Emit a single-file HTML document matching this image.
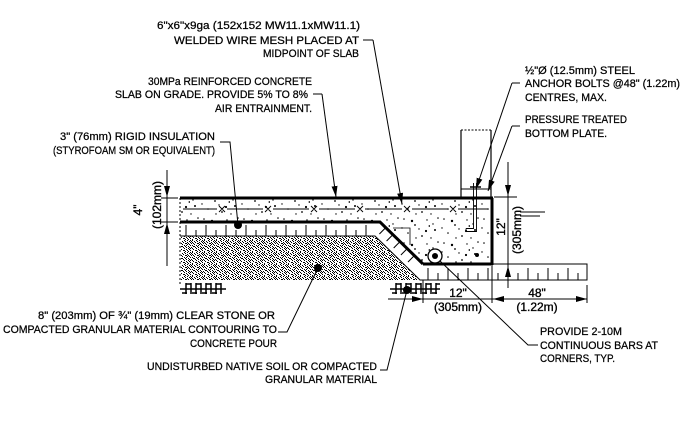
<!DOCTYPE html>
<html><head><meta charset="utf-8"><style>
html,body{margin:0;padding:0;background:#fff;}
svg{display:block;}
text{font-family:"Liberation Sans",Arial,sans-serif;font-size:11px;fill:#000;stroke:#000;stroke-width:0.25;}
.d{font-size:12px;stroke-width:0.35;}
</style></head><body>
<svg width="693" height="429" viewBox="0 0 693 429" xmlns="http://www.w3.org/2000/svg">
<defs>
<marker id="a" markerUnits="userSpaceOnUse" markerWidth="11" markerHeight="6" refX="11" refY="3" orient="auto"><path d="M0,0L11,3L0,6z" fill="#000"/></marker>
<pattern id="g" width="12" height="12" patternUnits="userSpaceOnUse"><path fill="#000" d="M0 0h1v1h-1zM4 0h1v1h-1zM7 0h1v1h-1zM10 0h1v1h-1zM2 1h1v1h-1zM5 1h1v1h-1zM9 1h1v1h-1zM11 1h1v1h-1zM0 2h1v1h-1zM3 2h1v1h-1zM7 2h1v1h-1zM10 2h1v1h-1zM1 3h1v1h-1zM5 3h2v1h-2zM8 3h1v1h-1zM11 3h1v1h-1zM2 4h1v1h-1zM7 4h1v1h-1zM9 4h1v1h-1zM0 5h1v1h-1zM4 5h1v1h-1zM6 5h1v1h-1zM10 5h1v1h-1zM1 6h2v1h-2zM5 6h1v1h-1zM8 6h1v1h-1zM3 7h1v1h-1zM6 7h1v1h-1zM9 7h1v1h-1zM11 7h1v1h-1zM0 8h1v1h-1zM4 8h1v1h-1zM8 8h1v1h-1zM10 8h1v1h-1zM1 9h1v1h-1zM6 9h1v1h-1zM9 9h1v1h-1zM3 10h2v1h-2zM7 10h1v1h-1zM10 10h1v1h-1zM0 11h1v1h-1zM5 11h1v1h-1zM8 11h1v1h-1z"/></pattern>
<pattern id="c" width="40" height="24" patternUnits="userSpaceOnUse">
<g fill="#000">
<circle cx="4" cy="3" r="0.8"/><circle cx="15" cy="9" r="0.9"/><circle cx="27" cy="4" r="0.7"/><circle cx="35" cy="14" r="1"/>
<circle cx="8" cy="17" r="0.8"/><circle cx="22" cy="20" r="0.9"/><circle cx="31" cy="22" r="0.7"/><circle cx="19" cy="13" r="0.7"/>
<circle cx="12" cy="5" r="1.2"/><circle cx="33" cy="8" r="0.7"/><circle cx="2" cy="12" r="0.7"/><circle cx="26" cy="15" r="1.1"/>
<circle cx="38" cy="2" r="0.8"/><circle cx="16" cy="22" r="0.7"/>
<path d="M28 10l2 -1l0 2z"/>
</g>
</pattern>
</defs>

<!-- fills -->
<polygon points="180,198 492,198 492,264 423,264 380,222 180,222" fill="url(#c)"/>
<polygon points="181,236 375,236 420,280 181,280" fill="url(#g)"/>

<!-- mesh -->
<g stroke="#000" stroke-width="0.9" fill="none">
<path d="M183 209H217M227 209H263M273 209H309M319 209H355M365 209H402M412 209H448M458 209H488"/>
<path d="M219 206l6 6M225 206l-6 6M265 206l6 6M271 206l-6 6M311 206l6 6M317 206l-6 6M357 206l6 6M363 206l-6 6M404 206l6 6M410 206l-6 6M450 206l6 6M456 206l-6 6"/>
</g>

<!-- thin outlines -->
<g stroke="#000" stroke-width="1" fill="none">
<path d="M180 236H375L420 280H587V264H493"/>
<path d="M180 198V284" stroke-dasharray="2 2"/>
<path d="M186 225V236M196 230V236M206 225V236M216 230V236M226 225V236M236 230V236M246 225V236M256 230V236M266 225V236M276 230V236M286 225V236M296 230V236M306 225V236M316 230V236M326 225V236M336 230V236M346 225V236M356 230V236M366 225V236"/>
<path d="M428 268V280M438 273V280M448 268V280M458 273V280M468 268V280M478 273V280M488 268V280M498 273V280M508 268V280M518 273V280M528 268V280M538 273V280M548 268V280M558 273V280M568 268V280M578 273V280"/>
<path d="M385.7 227.6L379.4 234M392.9 234.6L386.6 241M400 241.6L393.7 248M407.2 248.6L400.9 255M414.3 255.6L408 262"/>
<path d="M393 228H410V245" stroke-width="0.8"/>
</g>

<!-- thick lines -->
<g stroke="#000" stroke-width="3" fill="none" stroke-linejoin="miter">
<path d="M180 198H493"/>
<path d="M492 198V265"/>
<path d="M423 264H493"/>
<path d="M180 222H380L423 264"/>
</g>

<!-- rebar -->
<circle cx="435" cy="256" r="7" fill="#fff" stroke="#000" stroke-width="1.3"/>
<circle cx="435" cy="256" r="3" fill="#000"/>
<circle cx="477" cy="255" r="2" fill="#000"/>

<!-- wall, plate, bolt -->
<g stroke="#000" fill="none">
<path d="M461 130V198M491 130V198" stroke-width="1.2"/>
<path d="M461 130H491" stroke-width="1" stroke-dasharray="2 1.5"/>
<path d="M461 189H491" stroke-width="1"/>
<path d="M473.5 183V228.5H466M476.5 183V231.5H466M466 228.5V231.5" stroke-width="0.9"/>
<path d="M470 187H481" stroke-width="1.5"/>
</g>

<!-- soil symbols -->
<g stroke="#000" stroke-width="1.5" fill="none">
<path d="M180 289H226M186 283V294M191 283V294M186 284H191M182 293H187M196 283V294M201 283V294M196 284H201M192 293H197M206 283V294M211 283V294M206 284H211M202 293H207M216 283V294M221 283V294M216 284H221M212 293H217"/>
<path d="M390 289H440M396 283V294M401 283V294M396 284H401M392 293H397M406 283V294M411 283V294M406 284H411M402 293H407M416 283V294M421 283V294M416 284H421M412 293H417M426 283V294M431 283V294M426 284H431M422 293H427M436 283V294M436 284H440M432 293H437"/>
</g>

<!-- leaders -->
<g stroke="#000" stroke-width="1" fill="none">
<path d="M363 40H373"/><line x1="373" y1="40" x2="402" y2="204" marker-end="url(#a)"/>
<path d="M313 94H322"/><line x1="322" y1="94" x2="336" y2="197" marker-end="url(#a)"/>
<path d="M220 142H230L238 225"/>
<path d="M318 268L287 332H278"/>
<path d="M407 290L387 370H380"/>
<path d="M512 83H520"/><line x1="512" y1="83" x2="476" y2="189" marker-end="url(#a)"/>
<path d="M512 126H520"/><line x1="512" y1="126" x2="488" y2="191" marker-end="url(#a)"/>
<path d="M440 261L528 345H538"/>
</g>
<circle cx="238" cy="225" r="4" fill="#000"/>
<circle cx="318" cy="268" r="4" fill="#000"/>
<circle cx="407" cy="290" r="4" fill="#000"/>

<!-- dimensions -->
<g stroke="#000" stroke-width="1" fill="none">
<path d="M167 170V266M161 198H178M161 222H178"/>
<line x1="167" y1="180" x2="167" y2="197" marker-end="url(#a)"/>
<line x1="167" y1="240" x2="167" y2="223" marker-end="url(#a)"/>
<path d="M508 162V288M494 197H517"/>
<line x1="508" y1="172" x2="508" y2="196" marker-end="url(#a)"/>
<line x1="508" y1="285" x2="508" y2="266" marker-end="url(#a)"/>
<path d="M388 299H587M423 280V303M492 266V303M587 285V303"/>
<line x1="398" y1="299" x2="423" y2="299" marker-end="url(#a)"/>
<line x1="515" y1="299" x2="493" y2="299" marker-end="url(#a)"/>
<line x1="562" y1="299" x2="587" y2="299" marker-end="url(#a)"/>
<path d="M520 212H545M520 216H540"/>
</g>

<!-- labels -->
<text x="157" y="29" textLength="203" lengthAdjust="spacingAndGlyphs">6"x6"x9ga (152x152 MW11.1xMW11.1)</text>
<text x="174" y="44" textLength="185" lengthAdjust="spacingAndGlyphs">WELDED WIRE MESH PLACED AT</text>
<text x="263" y="57" textLength="96" lengthAdjust="spacingAndGlyphs">MIDPOINT OF SLAB</text>
<text x="148" y="85" textLength="164" lengthAdjust="spacingAndGlyphs">30MPa REINFORCED CONCRETE</text>
<text x="115" y="98" textLength="193" lengthAdjust="spacingAndGlyphs">SLAB ON GRADE. PROVIDE 5% TO 8%</text>
<text x="215" y="112" textLength="97" lengthAdjust="spacingAndGlyphs">AIR ENTRAINMENT.</text>
<text x="60" y="140" textLength="155" lengthAdjust="spacingAndGlyphs">3" (76mm) RIGID INSULATION</text>
<text x="53" y="154" textLength="162" lengthAdjust="spacingAndGlyphs">(STYROFOAM SM OR EQUIVALENT)</text>
<text x="38" y="319" textLength="237" lengthAdjust="spacingAndGlyphs">8" (203mm) OF ¾" (19mm) CLEAR STONE OR</text>
<text x="3" y="333" textLength="274" lengthAdjust="spacingAndGlyphs">COMPACTED GRANULAR MATERIAL CONTOURING TO</text>
<text x="190" y="347" textLength="87" lengthAdjust="spacingAndGlyphs">CONCRETE POUR</text>
<text x="147" y="370" textLength="230" lengthAdjust="spacingAndGlyphs">UNDISTURBED NATIVE SOIL OR COMPACTED</text>
<text x="265" y="383" textLength="112" lengthAdjust="spacingAndGlyphs">GRANULAR MATERIAL</text>
<text x="525" y="74" textLength="110" lengthAdjust="spacingAndGlyphs">½"Ø (12.5mm) STEEL</text>
<text x="525" y="87" textLength="155" lengthAdjust="spacingAndGlyphs">ANCHOR BOLTS @48" (1.22m)</text>
<text x="525" y="101" textLength="82" lengthAdjust="spacingAndGlyphs">CENTRES, MAX.</text>
<text x="525" y="123" textLength="102" lengthAdjust="spacingAndGlyphs">PRESSURE TREATED</text>
<text x="525" y="137" textLength="82" lengthAdjust="spacingAndGlyphs">BOTTOM PLATE.</text>
<text x="540" y="335" textLength="82" lengthAdjust="spacingAndGlyphs">PROVIDE 2-10M</text>
<text x="540" y="349" textLength="118" lengthAdjust="spacingAndGlyphs">CONTINUOUS BARS AT</text>
<text x="540" y="362" textLength="75" lengthAdjust="spacingAndGlyphs">CORNERS, TYP.</text>

<!-- dimension texts -->
<text class="d" x="458" y="297" text-anchor="middle">12"</text>
<text class="d" x="458" y="311" text-anchor="middle">(305mm)</text>
<text class="d" x="537" y="297" text-anchor="middle">48"</text>
<text class="d" x="537" y="311" text-anchor="middle">(1.22m)</text>
<text class="d" transform="translate(142,210) rotate(-90)" text-anchor="middle">4"</text>
<text class="d" transform="translate(161,205) rotate(-90)" text-anchor="middle">(102mm)</text>
<text class="d" transform="translate(505,227) rotate(-90)" text-anchor="middle">12"</text>
<text class="d" transform="translate(521,230) rotate(-90)" text-anchor="middle">(305mm)</text>
</svg>
</body></html>
